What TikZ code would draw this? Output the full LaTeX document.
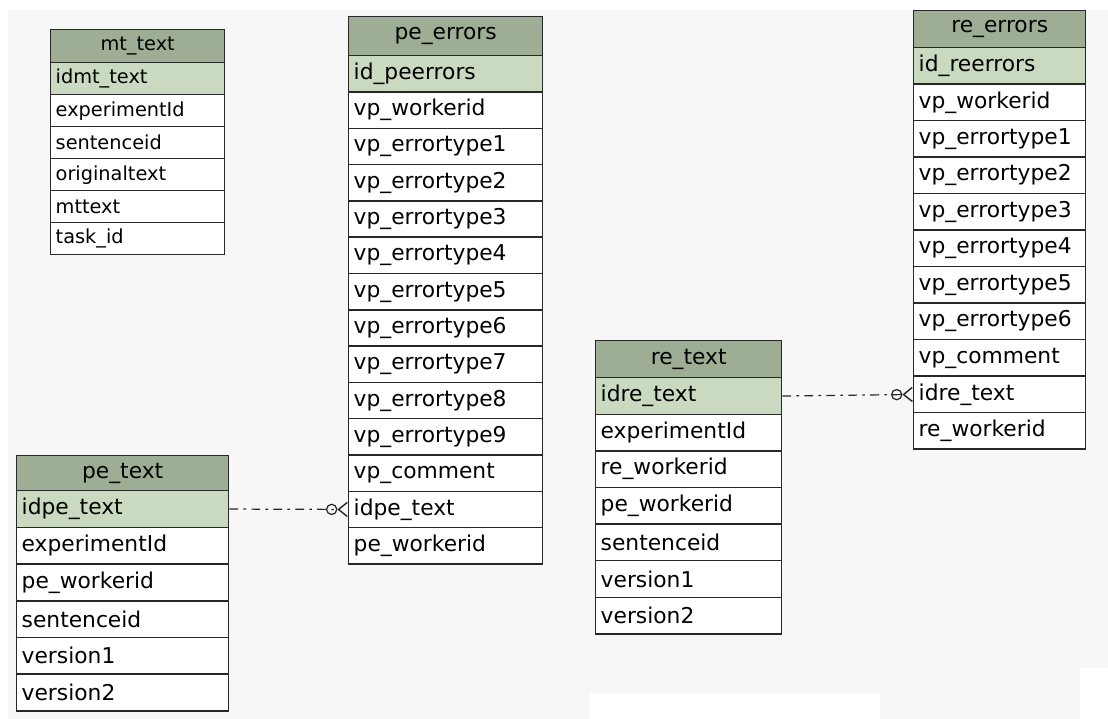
\documentclass[tikz,border=0pt]{standalone}
\usepackage{fontspec}
\setmainfont{DejaVu Sans}
\usepackage{tikz}
\usetikzlibrary{arrows.meta, positioning}
\definecolor{headcolor}{RGB}{158, 174, 148}
\definecolor{keycolor}{RGB}{201, 218, 192}
\definecolor{bgcolor}{RGB}{247, 247, 247}
\definecolor{linecolor}{RGB}{40, 40, 40}
\tikzset{
  tblhead/.style={draw=linecolor, line width=0.8pt, fill=headcolor, anchor=north west, inner xsep=0.1cm, inner ysep=0pt, text width=#1, align=center},
  keyrow/.style={draw=linecolor, line width=0.8pt, fill=keycolor, anchor=north west, inner xsep=0.1cm, inner ysep=0pt, text width=#1, align=left},
  fieldrow/.style={draw=linecolor, line width=0.8pt, fill=white, anchor=north west, inner xsep=0.1cm, inner ysep=0pt, text width=#1, align=left},
  relation/.style={draw=linecolor, line width=0.7pt, dash pattern=on 5pt off 3pt on 1.5pt off 3pt, -{Circle[open, length=6.5pt, sep=0pt] Straight Barb[reversed, length=5pt, width=8pt, line width=0.8pt]}}
}
\begin{document}
\begin{tikzpicture}[x=0.02cm, y=-0.02cm, font=\fontsize{12.4}{14}\selectfont]
  % background
  \fill[white] (0,0) rectangle (1108,719);
  \fill[bgcolor] (8,10) rectangle (1108,719);
  \fill[white] (590,693) rectangle (880,719);
  \fill[white] (1080,668) rectangle (1108,719);
  \useasboundingbox (0,0) rectangle (1108,719);

  % mt_text
  \begin{scope}[font=\fontsize{11}{13}\selectfont]
    \node[tblhead=3.28cm, minimum height=0.66cm] (mt) at (50,29) {mt\_text};
    \node[keyrow=3.28cm, minimum height=0.64cm] (mt0) at (50,62) {idmt\_text};
    \foreach \f [count=\i] in {experimentId, sentenceid, originaltext, mttext, task\_id}
      \node[fieldrow=3.28cm, minimum height=0.64cm] (mt\i) at (50,62+32*\i) {\f};
  \end{scope}

  % pe_errors
  \node[tblhead=3.68cm, minimum height=0.78cm] (pee) at (348,16) {pe\_errors};
  \node[keyrow=3.68cm, minimum height=0.726cm] (pee0) at (348,55) {id\_peerrors};
  \foreach \f [count=\i] in {vp\_workerid, vp\_errortype1, vp\_errortype2, vp\_errortype3, vp\_errortype4, vp\_errortype5, vp\_errortype6, vp\_errortype7, vp\_errortype8, vp\_errortype9, vp\_comment, idpe\_text, pe\_workerid}
    \node[fieldrow=3.68cm, minimum height=0.726cm] (pee\i) at (348,55+36.3*\i) {\f};

  % pe_text
  \node[tblhead=4.04cm, minimum height=0.70cm] (pet) at (16,455) {pe\_text};
  \node[keyrow=4.04cm, minimum height=0.734cm] (pet0) at (16,490) {idpe\_text};
  \foreach \f [count=\i] in {experimentId, pe\_workerid, sentenceid, version1, version2}
    \node[fieldrow=4.04cm, minimum height=0.734cm] (pet\i) at (16,490+36.7*\i) {\f};

  % re_text
  \node[tblhead=3.52cm, minimum height=0.74cm] (ret) at (595,340) {re\_text};
  \node[keyrow=3.52cm, minimum height=0.732cm] (ret0) at (595,377) {idre\_text};
  \foreach \f [count=\i] in {experimentId, re\_workerid, pe\_workerid, sentenceid, version1, version2}
    \node[fieldrow=3.52cm, minimum height=0.732cm] (ret\i) at (595,377+36.6*\i) {\f};

  % re_errors
  \node[tblhead=3.24cm, minimum height=0.74cm] (ree) at (913,10) {re\_errors};
  \node[keyrow=3.24cm, minimum height=0.73cm] (ree0) at (913,47) {id\_reerrors};
  \foreach \f [count=\i] in {vp\_workerid, vp\_errortype1, vp\_errortype2, vp\_errortype3, vp\_errortype4, vp\_errortype5, vp\_errortype6, vp\_comment, idre\_text, re\_workerid}
    \node[fieldrow=3.24cm, minimum height=0.73cm] (ree\i) at (913,47+36.5*\i) {\f};

  % relations
  \draw[relation] (pet0.east) -- (pee12.west);
  \draw[relation] (ret0.east) -- (ree9.west);
\end{tikzpicture}
\end{document}
